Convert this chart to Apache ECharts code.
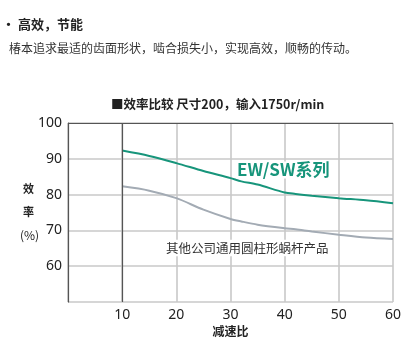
<!DOCTYPE html>
<html><head><meta charset="utf-8">
<script src="https://cdn.jsdelivr.net/npm/echarts@6/dist/echarts.min.js"></script>
<style>html,body{margin:0;padding:0;background:#fff}#c{width:405px;height:355px}</style>
</head><body><div id="c"></div>
<script>
const ratios = [10, 15, 20, 25, 30, 32, 35, 40, 42, 45, 50, 55, 60];
const ewSeries = [92.3, 90.8, 88.8, 86.6, 84.6, 83.7, 82.8, 80.6, 80.2, 79.7, 79.0, 78.4, 77.6];
const otherSeries = [82.3, 81.1, 79.0, 75.8, 73.2, 72.5, 71.6, 70.6, 70.3, 69.7, 68.8, 68.0, 67.6];
const xTicks = [10, 20, 30, 40, 50, 60];
const yTicks = [60, 70, 80, 90, 100];
const FONT = '"Noto Sans CJK SC", "Noto Sans", sans-serif';

const chart = echarts.init(document.getElementById('c'));
chart.setOption({
  animation: false,
  textStyle: { fontFamily: FONT },
  grid: { left: 68, right: 12, top: 123, bottom: 53, containLabel: false },
  xAxis: {
    type: 'value', min: 0, max: 60, interval: 10,
    axisLine: { show: false }, axisTick: { show: false },
    axisLabel: { color: '#222', fontSize: 14, margin: 6, fontFamily: '"Noto Sans", sans-serif',
      formatter: v => xTicks.includes(v) ? String(v) : '' },
    splitLine: { show: true, lineStyle: { color: '#c8c8c8', width: 1.6 } }
  },
  yAxis: {
    type: 'value', min: 50, max: 100, interval: 10,
    axisLine: { show: true, lineStyle: { color: '#555', width: 1.2 } },
    axisTick: { show: false },
    axisLabel: { color: '#222', fontSize: 14, margin: 6, fontFamily: '"Noto Sans", sans-serif',
      formatter: v => yTicks.includes(v) ? String(v) : '' },
    splitLine: { show: true, lineStyle: { color: '#c8c8c8', width: 1.6 } }
  },
  series: [
    {
      type: 'line', data: ratios.map((x, i) => [x, otherSeries[i]]),
      showSymbol: false, smooth: 0.3,
      lineStyle: { color: '#a3abb4', width: 2 }, z: 3,
      markLine: {
        silent: true, symbol: 'none', label: { show: false },
        lineStyle: { color: '#555', width: 1.2, type: 'solid' },
        data: [{ xAxis: 10 }, { yAxis: 100 }]
      }
    },
    {
      type: 'line', data: ratios.map((x, i) => [x, ewSeries[i]]),
      showSymbol: false, smooth: 0.3,
      lineStyle: { color: '#17957b', width: 2 }, z: 4
    }
  ],
  graphic: [
    { type: 'text', left: 2, top: 18, style: { text: '· 高效，节能', font: 'bold 13px ' + FONT, fill: '#222' } },
    { type: 'text', left: 9, top: 42, style: { text: '椿本追求最适的齿面形状，啮合损失小，实现高效，顺畅的传动。', font: '12px ' + FONT, fill: '#333' } },
    { type: 'text', left: 111, top: 98, style: { text: '■效率比较 尺寸200，输入1750r/min', font: 'bold 12.5px ' + FONT, fill: '#222' } },
    { type: 'text', x: 28.5, y: 189, style: { text: '效', font: 'bold 11px ' + FONT, fill: '#222', align: 'center', verticalAlign: 'middle' } },
    { type: 'text', x: 28.5, y: 212, style: { text: '率', font: 'bold 11px ' + FONT, fill: '#222', align: 'center', verticalAlign: 'middle' } },
    { type: 'text', x: 29.5, y: 235, style: { text: '(%)', font: '12px ' + FONT, fill: '#222', align: 'center', verticalAlign: 'middle' } },
    { type: 'text', x: 230.5, y: 331, style: { text: '减速比', font: 'bold 12px ' + FONT, fill: '#222', align: 'center', verticalAlign: 'middle' } },
    { type: 'text', x: 236, y: 170, z: 10, style: { text: 'EW/SW系列', font: 'bold 17px ' + FONT, fill: '#17957b', verticalAlign: 'middle', backgroundColor: '#fff', padding: [0, 1] } },
    { type: 'text', x: 165, y: 248, z: 10, style: { text: '其他公司通用圆柱形蜗杆产品', font: '12.5px ' + FONT, fill: '#333', verticalAlign: 'middle', backgroundColor: '#fff', padding: [2, 1] } }
  ]
});
</script>
</body></html>
